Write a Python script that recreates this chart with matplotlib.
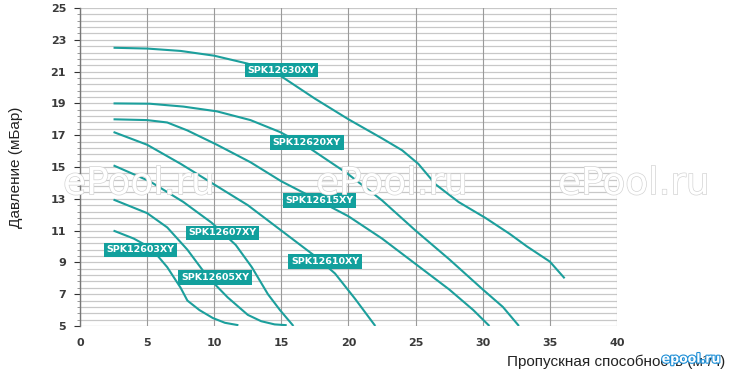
import numpy as np
import matplotlib
matplotlib.use("Agg")
import matplotlib.pyplot as plt
import matplotlib.patheffects as pe

# ---- data ----
models = ["SPK12603XY", "SPK12605XY", "SPK12607XY", "SPK12610XY",
          "SPK12615XY", "SPK12620XY", "SPK12630XY"]

q_03 = [2.5, 4.0, 5.3, 6.5, 7.5, 8.0, 8.9, 9.9, 10.8, 11.8]
p_03 = [11.0, 10.5, 9.9, 8.7, 7.4, 6.6, 6.0, 5.5, 5.2, 5.05]

q_05 = [2.5, 5.0, 6.5, 8.0, 9.5, 11.0, 12.5, 13.5, 14.5, 15.4]
p_05 = [12.95, 12.1, 11.2, 9.8, 8.1, 6.8, 5.7, 5.3, 5.1, 5.05]

q_07 = [2.5, 5.2, 7.7, 9.8, 11.6, 12.8, 14.0, 14.9, 15.9]
p_07 = [15.1, 14.1, 12.8, 11.5, 10.1, 8.7, 7.0, 6.0, 5.0]

q_10 = [2.5, 5.0, 7.5, 10.0, 12.5, 15.0, 17.5, 19.0, 20.5, 22.0]
p_10 = [17.2, 16.4, 15.2, 13.9, 12.6, 11.0, 9.4, 8.3, 6.7, 5.0]

q_15 = [2.5, 5.0, 6.5, 8.0, 10.2, 12.7, 15.0, 17.3, 20.0, 22.5, 25.0, 27.5, 29.3, 30.5]
p_15 = [18.0, 17.95, 17.8, 17.3, 16.4, 15.3, 14.1, 13.1, 11.9, 10.5, 8.9, 7.3, 6.0, 5.0]

q_20 = [2.5, 5.2, 7.7, 10.2, 12.7, 14.9, 16.9, 19.9, 22.5, 25.0, 27.5, 30.0, 31.5, 32.7]
p_20 = [19.0, 18.98, 18.8, 18.5, 17.95, 17.2, 16.3, 14.6, 12.9, 11.0, 9.2, 7.3, 6.2, 5.0]

q_30 = [2.5, 5.0, 7.5, 10.0, 12.5, 15.0, 17.5, 20.0, 22.5, 24.0, 25.2, 26.5, 28.2, 30.2, 32.0, 33.3, 35.0, 36.1]
p_30 = [22.5, 22.45, 22.3, 22.0, 21.5, 20.7, 19.3, 18.0, 16.8, 16.05, 15.2, 13.9, 12.8, 11.8, 10.8, 10.0, 9.05, 8.0]

label_x = [4.5, 10.05, 10.6, 18.25, 17.85, 16.9, 15.0]
label_y = [9.8, 8.05, 10.85, 9.05, 12.9, 16.55, 21.1]

x_ticks = [0, 5, 10, 15, 20, 25, 30, 35, 40]
y_ticks = [5, 7, 9, 11, 13, 15, 17, 19, 21, 23, 25]

curves_q = [q_03, q_05, q_07, q_10, q_15, q_20, q_30]
curves_p = [p_03, p_05, p_07, p_10, p_15, p_20, p_30]

line_color = "#1c9f9c"
box_color = "#12a09d"

fig = plt.figure(figsize=(7.31, 3.76), dpi=100)
ax = fig.add_axes([0.1094, 0.133, 0.7346, 0.8457])
ax.set_xlim(0, 40)
ax.set_ylim(5, 25)

# grid
for yv in np.arange(5, 25.01, 0.4):
    ax.axhline(yv, color="#c8c8c8", lw=0.9, zorder=0)
for xv in x_ticks:
    ax.axvline(xv, color="#9a9a9a", lw=0.8, zorder=0.5)

for q, p in zip(curves_q, curves_p):
    ax.plot(q, p, color=line_color, lw=1.5, solid_capstyle="butt", zorder=2)

for name, lx, ly in zip(models, label_x, label_y):
    ax.text(lx, ly, name, ha="center", va="center", color="white",
            fontsize=6.8, fontweight="bold", family="DejaVu Sans",
            bbox=dict(boxstyle="square,pad=0.28", fc=box_color, ec="none"),
            zorder=4)

ax.set_xticks(x_ticks)
ax.set_yticks(y_ticks)
ax.set_yticks(np.arange(5, 25.01, 0.4), minor=True)
ax.tick_params(axis="x", length=0, pad=9, labelsize=8, colors="#333333")
ax.tick_params(axis="y", which="major", length=4, width=0.8, pad=6,
               labelsize=8, colors="#333333")
ax.tick_params(axis="y", which="minor", length=2.5, width=0.6, color="#888888")
for lbl in ax.get_xticklabels() + ax.get_yticklabels():
    lbl.set_fontweight("bold")
    lbl.set_color("#3a3a3a")

for s in ["top", "right", "bottom"]:
    ax.spines[s].set_visible(False)
ax.spines["left"].set_color("#777777")
ax.spines["left"].set_linewidth(1.0)

fig.text(0.022, 0.555, "Давление (мБар)", rotation=90, ha="center", va="center",
         fontsize=11, family="Liberation Sans", color="#222222")
fig.text(0.992, 0.038, "Пропускная способность (м³/ч)", ha="right", va="center",
         fontsize=11, family="Liberation Sans", color="#222222")

# watermarks
for wx in [0.19, 0.536, 0.867]:
    fig.text(wx, 0.51, "ePool.ru", ha="center", va="center", fontsize=27,
             family="DejaVu Sans", color="white", alpha=1.0, zorder=5,
             path_effects=[pe.withStroke(linewidth=1.0, foreground="#d4d4d4")])
fig.text(0.945, 0.045, "epool.ru", ha="center", va="center", fontsize=9,
         family="DejaVu Sans", color="white", fontweight="bold",
         path_effects=[pe.withStroke(linewidth=1.6, foreground="#1f8fd6")])

fig.savefig("out.png", dpi=100, facecolor="white")
